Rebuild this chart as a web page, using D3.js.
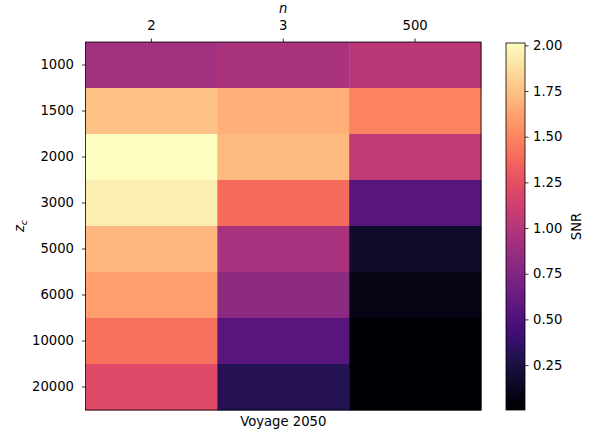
<!DOCTYPE html>
<html><head><meta charset="utf-8">
<script src="https://cdn.jsdelivr.net/npm/d3@7"></script>
<style>body{margin:0;background:#fff}svg{display:block;font-family:"DejaVu Sans",sans-serif}</style>
</head><body><svg id="c" width="594" height="434"></svg>
<script>
const nLabels = ["2", "3", "500"];
const zcLabels = ["1000", "1500", "2000", "3000", "5000", "6000", "10000", "20000"];
// SNR per row (zc), columns n = 2, 3, 500
const snr2   = [0.91, 1.75, 2.013, 1.95, 1.71, 1.61, 1.41, 1.22];
const snr3   = [0.95, 1.68, 1.72, 1.39, 0.94, 0.81, 0.55, 0.30];
const snr500 = [1.03, 1.49, 1.05, 0.55, 0.165, 0.08, 0.006, 0.004];
const cbTicks = [0.25, 0.5, 0.75, 1.0, 1.25, 1.5, 1.75, 2.0];
const xLabel = "Voyage 2050", yLabel = "z", cbLabel = "SNR";

const cols = [snr2, snr3, snr500];
const cells = [];
cols.forEach((col, j) => col.forEach((v, i) => cells.push({n: nLabels[j], zc: zcLabels[i], v})));
const allVals = cells.map(d => d.v);
const vmin = d3.min(allVals), vmax = d3.max(allVals);

const svg = d3.select("#c");
const L = 85.5, R = 481, T = 42, B = 410;
const x = d3.scaleBand().domain(nLabels).range([L, R]);
const y = d3.scaleBand().domain(zcLabels).range([T, B]);
const color = d3.scaleSequential(d3.interpolateMagma).domain([vmin, vmax]);

svg.append("g").selectAll("rect").data(cells).join("rect")
  .attr("x", d => x(d.n)).attr("y", d => y(d.zc))
  .attr("width", x.bandwidth() + 0.5).attr("height", y.bandwidth() + 0.5)
  .attr("fill", d => color(d.v));

svg.append("rect").attr("x", L).attr("y", T).attr("width", R - L).attr("height", B - T)
  .attr("fill", "none").attr("stroke", "#000").attr("stroke-width", 0.8);

const fs = "13.2px";
const xAx = svg.append("g").attr("transform", `translate(0,${T})`)
  .call(d3.axisTop(x).tickSize(3.5).tickPadding(8.5));
const yAx = svg.append("g").attr("transform", `translate(${L},0)`)
  .call(d3.axisLeft(y).tickSize(3.5).tickPadding(8));
[xAx, yAx].forEach(g => {
  g.select(".domain").remove();
  g.selectAll("line").attr("stroke", "#000").attr("stroke-width", 0.8);
  g.selectAll("text").attr("font-size", fs).attr("fill", "#000").attr("font-family", "DejaVu Sans");
});

svg.append("text").attr("x", (L + R) / 2).attr("y", 13).attr("text-anchor", "middle")
  .attr("font-size", fs).attr("font-style", "italic").text("n");
svg.append("text").attr("x", (L + R) / 2).attr("y", 426).attr("text-anchor", "middle")
  .attr("font-size", fs).text(xLabel);
const yl = svg.append("text").attr("transform", `translate(24,${(T + B) / 2}) rotate(-90)`)
  .attr("text-anchor", "middle").attr("font-size", fs).attr("font-style", "italic");
yl.append("tspan").text(yLabel);
yl.append("tspan").attr("font-size", "9.5px").attr("dy", 3).text("c");

// colorbar
const cbX = 506, cbW = 19, cbT = 43, cbB = 410;
const cy = d3.scaleLinear().domain([vmin, vmax]).range([cbB, cbT]);
const defs = svg.append("defs");
const grad = defs.append("linearGradient").attr("id", "g").attr("x1", 0).attr("y1", 1).attr("x2", 0).attr("y2", 0);
d3.range(0, 1.0001, 0.02).forEach(t => grad.append("stop").attr("offset", t).attr("stop-color", d3.interpolateMagma(t)));
svg.append("rect").attr("x", cbX).attr("y", cbT).attr("width", cbW).attr("height", cbB - cbT).attr("fill", "url(#g)");
svg.append("rect").attr("x", cbX).attr("y", cbT).attr("width", cbW).attr("height", cbB - cbT)
  .attr("fill", "none").attr("stroke", "#000").attr("stroke-width", 0.8);
const cAx = svg.append("g").attr("transform", `translate(${cbX + cbW},0)`)
  .call(d3.axisRight(cy).tickValues(cbTicks).tickFormat(d3.format(".2f")).tickSize(3.5).tickPadding(4.5));
cAx.select(".domain").remove();
cAx.selectAll("line").attr("stroke", "#000").attr("stroke-width", 0.8);
cAx.selectAll("text").attr("font-size", fs).attr("fill", "#000").attr("font-family", "DejaVu Sans");
svg.append("text").attr("transform", `translate(581,${(cbT + cbB) / 2}) rotate(-90)`)
  .attr("text-anchor", "middle").attr("font-size", fs).text(cbLabel);
</script></body></html>
